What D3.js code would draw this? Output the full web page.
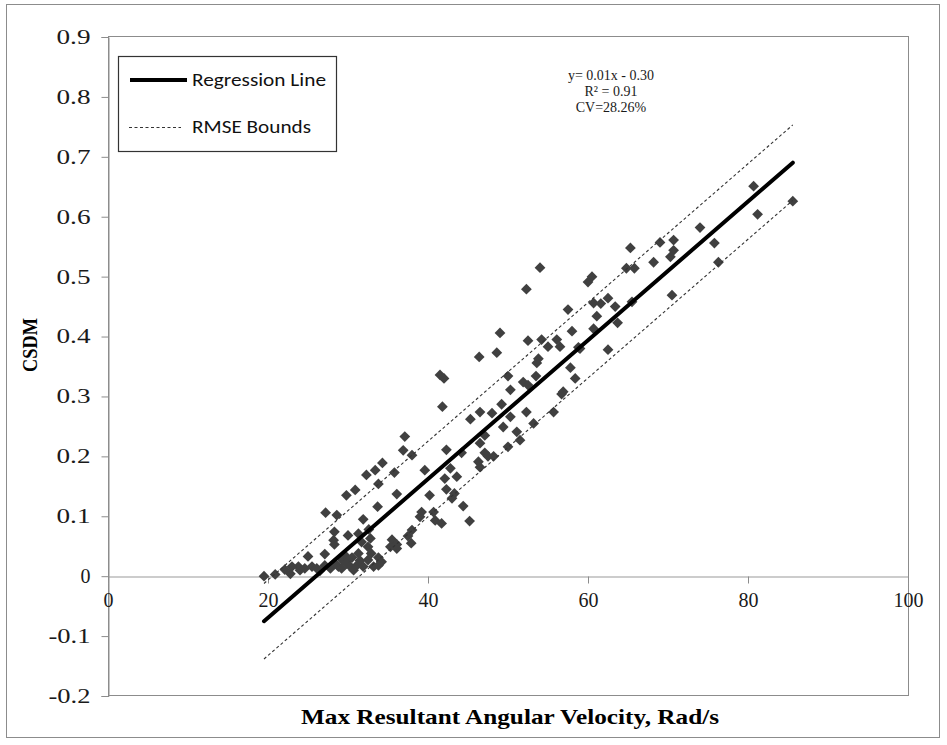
<!DOCTYPE html>
<html>
<head>
<meta charset="utf-8">
<script src="https://cdn.jsdelivr.net/npm/d3@7"></script>
<style>
  html, body { margin: 0; padding: 0; background: #fff; }
  svg { display: block; }
</style>
</head>
<body>
<svg id="chart" width="947" height="745"></svg>
<script>
// Measured samples: max resultant angular velocity (rad/s) vs CSDM
const velocity = [
  80.7, 85.6, 81.2, 74.0, 75.8, 76.3, 70.7, 69.0, 70.7, 70.3, 65.3, 68.2, 64.8, 65.8, 60.5, 60.0,
  70.5, 62.5, 60.7, 61.6, 63.4, 65.5, 57.5, 61.1, 63.7, 58.0, 60.7, 56.5, 58.8, 62.5, 57.8, 58.4,
  54.0, 52.3, 49.0, 52.5, 54.2, 56.1, 55.0, 46.4, 48.6, 53.8, 53.6, 59.0, 41.5, 42.0, 50.0, 53.5,
  51.9, 52.5, 50.3, 56.9, 56.7, 41.8, 49.2, 46.5, 48.0, 50.3, 52.3, 55.7, 45.3, 53.2, 49.4,
  51.1, 51.5, 47.1, 46.5, 37.1, 36.9, 38.0, 42.3, 44.2, 47.1, 47.5, 50.0, 48.2, 46.3, 46.5, 42.8,
  39.6, 42.1, 43.6,
  34.3, 33.4, 35.8, 32.3, 33.8, 29.8, 30.9, 36.1, 40.2, 42.3, 43.3,
  43.0, 44.4, 39.2, 39.0, 40.7, 40.9, 41.7, 45.2, 38.0,
  33.7, 27.2, 28.6, 31.9, 28.3, 30.0, 31.3, 32.6, 28.2, 28.3, 31.7, 32.8, 35.5, 37.5, 37.9, 35.3,
  36.1, 36.1, 25.0, 27.1, 29.6, 30.5, 31.3, 32.5, 32.9, 33.8, 34.2, 32.5, 29.3, 30.0,
  19.5, 20.9, 22.1, 23.8, 24.0, 24.6, 25.5, 26.1, 26.5, 27.1, 27.8, 28.4, 28.8, 29.2, 29.8, 30.3,
  30.7, 31.1, 31.5, 31.9, 33.2, 33.8, 23.0, 22.8
];
const csdm = [
  0.651, 0.626, 0.604, 0.582, 0.556, 0.524, 0.561, 0.557, 0.544, 0.533, 0.548, 0.524, 0.514, 0.514, 0.500, 0.491,
  0.469, 0.464, 0.456, 0.455, 0.450, 0.458, 0.445, 0.434, 0.423, 0.409, 0.413, 0.383, 0.382, 0.378, 0.348, 0.330,
  0.515, 0.479, 0.406, 0.393, 0.395, 0.395, 0.383, 0.366, 0.373, 0.363, 0.356, 0.380, 0.336, 0.330, 0.334, 0.334,
  0.324, 0.319, 0.311, 0.308, 0.304, 0.283, 0.287, 0.274, 0.272, 0.266, 0.274, 0.274, 0.262, 0.255, 0.249,
  0.241, 0.227, 0.235, 0.222, 0.233, 0.210, 0.202, 0.211, 0.206, 0.206, 0.200, 0.216, 0.200, 0.191, 0.182, 0.180,
  0.177, 0.163, 0.166,
  0.189, 0.177, 0.173, 0.169, 0.154, 0.135, 0.144, 0.137, 0.135, 0.145, 0.138,
  0.130, 0.117, 0.107, 0.099, 0.107, 0.093, 0.088, 0.092, 0.077,
  0.116, 0.106, 0.102, 0.095, 0.074, 0.068, 0.071, 0.078, 0.060, 0.053, 0.057, 0.063, 0.061, 0.067, 0.055, 0.049,
  0.046, 0.053, 0.033, 0.037, 0.035, 0.031, 0.038, 0.049, 0.038, 0.031, 0.024, 0.027, 0.027, 0.028,
  0.000, 0.003, 0.011, 0.016, 0.010, 0.013, 0.016, 0.013, 0.009, 0.018, 0.013, 0.021, 0.016, 0.013, 0.021, 0.016,
  0.010, 0.018, 0.026, 0.016, 0.016, 0.018, 0.016, 0.004
];

// Linear fit and RMSE band
const fitSlope = 0.01158;
const fitIntercept = -0.301;
const rmse = 0.063;

const xTicks = [0, 20, 40, 60, 80, 100];
const yTicks = [-0.2, -0.1, 0, 0.1, 0.2, 0.3, 0.4, 0.5, 0.6, 0.7, 0.8, 0.9];
const fitLabels = ["y= 0.01x  - 0.30", "R\u00B2 = 0.91", "CV=28.26%"];
const legendLabels = ["Regression Line", "RMSE Bounds"];
const xTitle = "Max Resultant Angular Velocity, Rad/s";
const yTitle = "CSDM";

const points = velocity.map((v, i) => ({ x: v, y: csdm[i] }));

const svg = d3.select("#chart");
const plot = { left: 108, right: 908, top: 37, bottom: 696 };

const x = d3.scaleLinear().domain([0, 100]).range([plot.left, plot.right]);
const y = d3.scaleLinear().domain([-0.2, 0.9]).range([plot.bottom, plot.top]);

const serif = "'Liberation Serif', 'Times New Roman', serif";
const sans = "Carlito, Calibri, 'Liberation Sans Narrow', 'Open Sans', sans-serif";

// Outer frame
svg.append("rect")
  .attr("x", 6.5).attr("y", 4.5).attr("width", 933).attr("height", 733)
  .attr("fill", "#fff").attr("stroke", "#8c8c8c").attr("stroke-width", 1);

// Plot area frame
svg.append("rect")
  .attr("x", plot.left + 0.5).attr("y", plot.top - 0.5)
  .attr("width", plot.right - plot.left).attr("height", plot.bottom - plot.top)
  .attr("fill", "none").attr("stroke", "#8c8c8c").attr("stroke-width", 1);

// Y axis on the left edge
const yFmt = d => Math.abs(d) < 1e-9 ? "0" : d3.format(".1f")(d).replace("\u2212", "-");
const yAxis = d3.axisLeft(y).tickValues(yTicks).tickSize(7).tickPadding(11).tickFormat(yFmt);
const gy = svg.append("g").attr("transform", `translate(${plot.left + 0.5},0)`).call(yAxis);
gy.select(".domain").attr("stroke", "#8c8c8c");
gy.selectAll(".tick line").attr("stroke", "#8c8c8c");
gy.selectAll(".tick text")
  .attr("font-family", serif).attr("font-size", 20).attr("fill", "#1a1a1a")
  .each(function (d) {
    const s = yFmt(d);
    if (s.length > 1) {
      d3.select(this).attr("textLength", s.startsWith("-") ? 42 : 34)
        .attr("lengthAdjust", "spacingAndGlyphs");
    }
  });

// X axis crossing at y = 0
const xAxis = d3.axisBottom(x).tickValues(xTicks).tickSize(7).tickPadding(9).tickFormat(d3.format("d"));
const gx = svg.append("g").attr("transform", `translate(0,${Math.round(y(0)) + 0.5})`).call(xAxis);
gx.select(".domain").attr("stroke", "#999");
gx.selectAll(".tick line").attr("stroke", "#8c8c8c");
gx.selectAll(".tick text")
  .attr("font-family", serif).attr("font-size", 20).attr("fill", "#1a1a1a");

// Axis titles
svg.append("text")
  .attr("x", 510).attr("y", 724).attr("text-anchor", "middle")
  .attr("font-family", serif).attr("font-weight", "bold").attr("font-size", 21)
  .attr("textLength", 418).attr("lengthAdjust", "spacingAndGlyphs")
  .text(xTitle);
svg.append("text")
  .attr("transform", `translate(37,345) rotate(-90)`).attr("text-anchor", "middle")
  .attr("font-family", serif).attr("font-weight", "bold").attr("font-size", 21)
  .attr("textLength", 54).attr("lengthAdjust", "spacingAndGlyphs")
  .text(yTitle);

// Scatter markers (diamonds)
const diamond = d3.symbol().type(d3.symbolSquare).size(58);
svg.append("g").selectAll("path").data(points).join("path")
  .attr("d", diamond)
  .attr("transform", d => `translate(${x(d.x)},${y(d.y)}) rotate(45)`)
  .attr("fill", "#404040");

// Fitted line and RMSE bounds across the data range
const xr = d3.extent(velocity);
const fit = v => fitSlope * v + fitIntercept;
const lineGen = d3.line().x(d => x(d[0])).y(d => y(d[1]));

[rmse, -rmse].forEach(off => {
  svg.append("path")
    .attr("d", lineGen(xr.map(v => [v, fit(v) + off])))
    .attr("fill", "none").attr("stroke", "#333").attr("stroke-width", 1.1)
    .attr("stroke-dasharray", "3,2.5");
});
svg.append("path")
  .attr("d", lineGen(xr.map(v => [v, fit(v)])))
  .attr("fill", "none").attr("stroke", "#000").attr("stroke-width", 4)
  .attr("stroke-linecap", "round");

// Fit statistics
const stats = svg.append("g").attr("font-family", serif).attr("font-size", 14).attr("fill", "#1a1a1a")
  .attr("text-anchor", "middle");
fitLabels.forEach((t, i) => {
  stats.append("text").attr("x", 611).attr("y", 80 + i * 16).text(t);
});

// Legend
const lg = svg.append("g");
lg.append("rect")
  .attr("x", 118.5).attr("y", 56.5).attr("width", 218).attr("height", 95)
  .attr("fill", "#fff").attr("stroke", "#333").attr("stroke-width", 1.2);
lg.append("line").attr("x1", 130).attr("x2", 187).attr("y1", 80).attr("y2", 80)
  .attr("stroke", "#000").attr("stroke-width", 4);
lg.append("line").attr("x1", 129).attr("x2", 181).attr("y1", 127.5).attr("y2", 127.5)
  .attr("stroke", "#333").attr("stroke-width", 1.1).attr("stroke-dasharray", "3,2.5");
lg.append("text").attr("x", 192).attr("y", 86).attr("font-family", sans).attr("font-size", 18)
  .attr("textLength", 134).attr("lengthAdjust", "spacingAndGlyphs").attr("fill", "#111")
  .text(legendLabels[0]);
lg.append("text").attr("x", 192).attr("y", 133).attr("font-family", sans).attr("font-size", 18)
  .attr("textLength", 119).attr("lengthAdjust", "spacingAndGlyphs").attr("fill", "#111")
  .text(legendLabels[1]);
</script>
</body>
</html>
